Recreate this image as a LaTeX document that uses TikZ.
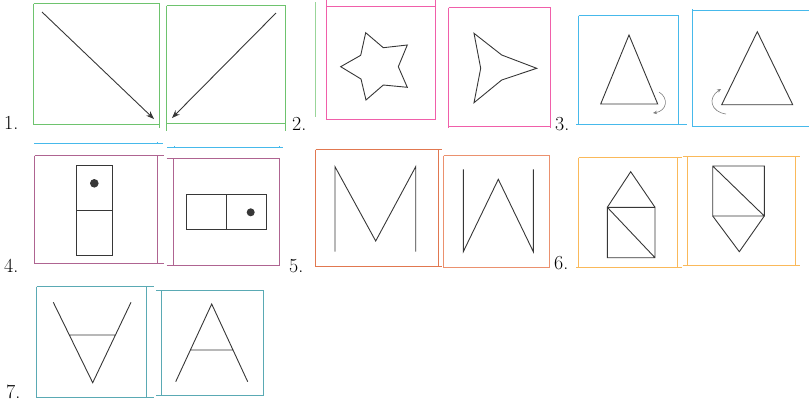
\documentclass[tikz,border=0pt]{standalone}
\usetikzlibrary{arrows.meta}
\definecolor{cgreen}{RGB}{110,195,110}
\definecolor{cpink}{RGB}{240,95,170}
\definecolor{cblue}{RGB}{70,185,235}
\definecolor{cpurple}{RGB}{175,100,145}
\definecolor{corange}{RGB}{225,120,80}
\definecolor{csalmon}{RGB}{235,145,110}
\definecolor{cyellow}{RGB}{250,185,90}
\definecolor{cteal}{RGB}{90,170,180}
\definecolor{cink}{RGB}{55,55,55}
\begin{document}
\begin{tikzpicture}[x=1bp,y=-1bp,
  frame/.style={line width=1.3bp},
  figline/.style={draw=cink,line width=0.9bp,line join=miter},
  lab/.style={font=\fontsize{20}{22}\selectfont,anchor=base west,inner sep=0pt},
  rot/.style={draw=gray,line width=0.6bp,-{Stealth[length=4bp,width=3.5bp]}}]
\useasboundingbox (0,0) rectangle (809,402);
% ---------- labels
\node[lab] (l1) at (4,129) {1.};
\node[lab] (l2) at (292,130) {2.};
\node[lab] (l3) at (555,130) {3.};
\node[lab] (l4) at (4,272) {4.};
\node[lab] (l5) at (289,272) {5.};
\node[lab] (l6) at (554,269) {6.};
\node[lab] (l7) at (6,398) {7.};
% ---------- panel 1
\draw[frame,draw=cgreen] (33.5,3.5) -- (159.5,3.5) (33.5,3.5) -- (33.5,124.5) (33.5,124.5) -- (159.5,124.5) (159.5,3.5) -- (159.5,127.5);
\draw[frame,draw=cgreen] (166.5,5.5) -- (166.5,130.5) (285.5,5.5) -- (285.5,130.5) (166.5,5.5) -- (285.5,5.5) (166.5,123.5) -- (285.5,123.5);
\draw[cink,line width=0.9bp,-{Stealth[length=8bp,width=6bp]}] (42,12) -- (154,119);
\draw[cink,line width=0.9bp,-{Stealth[length=8bp,width=6bp]}] (276,13) -- (172,118);
\draw[frame,draw=cblue] (34,143.5) -- (163,143.5) (157.5,142) -- (157.5,143.5);
\draw[frame,draw=cblue] (167,147.5) -- (283,147.5) (174.5,146) -- (174.5,147.5) (279.5,146) -- (279.5,147.5);
% ---------- panel 2
\draw[line width=0.7bp,draw=cgreen!70] (315.5,2) -- (315.5,117);
\draw[frame,draw=cpink] (326.5,0) -- (326.5,119.5) -- (435.5,119.5) -- (435.5,0) (326.5,6.5) -- (435.5,6.5);
\draw[figline] (365.7,32.7) -- (383.3,47.7) -- (407.3,45) -- (398.3,66.7) -- (407.3,87.3) -- (383.3,85)
  -- (366,100) -- (361,79) -- (340.7,66.7) -- (360.7,55.3) -- cycle;
\draw[frame,draw=cpink] (448.5,7.5) -- (550.5,7.5) (448.5,7.5) -- (448.5,128) (550.5,7.5) -- (550.5,128) (448.5,126.5) -- (550.5,126.5);
\draw[figline] (474,33.3) -- (501.7,55) -- (536.7,68.3) -- (501.7,80) -- (474,102.7) -- (480.7,68.3) -- cycle;
% ---------- panel 3
\draw[frame,draw=cblue] (578.5,15.5) -- (678.5,15.5) (578.5,15.5) -- (578.5,124.5) (678.5,15.5) -- (678.5,124.5) (576,124.5) -- (687,124.5);
\draw[frame,draw=cblue] (692.5,9) -- (692.5,126.5) (692.5,10.5) -- (809,10.5) (692.5,126.5) -- (809,126.5);
\draw[figline] (629,35) -- (600.7,104) -- (657.7,104) -- cycle;
\draw[figline] (757.3,31.7) -- (721.7,104.7) -- (792.7,104.7) -- cycle;
\draw[rot] (659,92) .. controls (669,98) and (667,111) .. (653,113);
\draw[rot] (726,114) .. controls (711,112) and (707,98) .. (721,89);
% ---------- panel 4
\draw[frame,draw=cpurple] (34.5,155.5) -- (164,155.5) (34.5,263.5) -- (164,263.5) (34.5,155.5) -- (34.5,263.5) (157.5,155.5) -- (157.5,263.5);
\draw[frame,draw=cpurple] (166.5,158.5) -- (280,158.5) (166.5,265.5) -- (280,265.5) (173.5,158.5) -- (173.5,265.5) (279.5,158.5) -- (279.5,265.5);
\draw[figline] (76,165.7) rectangle (112.7,255.7) (76,210.7) -- (112.7,210.7);
\fill[cink] (94.3,183.3) circle (4.3bp);
\draw[figline] (186,194.3) rectangle (266.7,229.3) (226.7,194.3) -- (226.7,229.3);
\fill[cink] (250.7,212.3) circle (4.0bp);
% ---------- panel 5
\draw[frame,draw=corange] (315.5,149.5) -- (441.5,149.5) (315.5,266.5) -- (441.5,266.5) (315.5,149.5) -- (315.5,266.5) (438.5,149.5) -- (438.5,266.5);
\draw[frame,draw=csalmon] (443.5,155.5) -- (549.5,155.5) (443.5,267.5) -- (549.5,267.5) (443.5,155.5) -- (443.5,267.5) (549.5,155.5) -- (549.5,267.5);
\draw[figline] (335,251.7) -- (335,166.7) -- (375.7,241) -- (415.7,166.7) -- (415.7,251.7);
\draw[figline] (463.3,169.3) -- (463.3,251.7) -- (498.3,179.3) -- (533.3,251.7) -- (533.3,169.3);
% ---------- panel 6
\draw[frame,draw=cyellow] (578.5,157.5) -- (681.5,157.5) (576,267.5) -- (681.5,267.5) (578.5,157.5) -- (578.5,267.5) (677.5,157.5) -- (677.5,267.5);
\draw[frame,draw=cyellow] (682.5,156.5) -- (800,156.5) (682.5,265.5) -- (800,265.5) (687.5,156.5) -- (687.5,265.5) (795.5,156.5) -- (795.5,265.5);
\draw[figline] (607.3,207.3) -- (630.7,171.7) -- (655,207.3);
\draw[figline] (607.3,207.3) rectangle (655,257.7) (607.3,207.3) -- (655,257.7);
\draw[figline] (712.7,166) rectangle (764.3,216) (712.7,166) -- (764.3,216);
\draw[figline] (712.7,216) -- (739.3,251.7) -- (764.3,216);
% ---------- panel 7
\draw[frame,draw=cteal] (36.5,286.5) -- (153.5,286.5) (36.5,397.5) -- (153.5,397.5) (36.5,286.5) -- (36.5,397.5) (146.5,286.5) -- (146.5,397.5);
\draw[frame,draw=cteal] (156,290.5) -- (263.5,290.5) (156,395.5) -- (263.5,395.5) (161.5,290.5) -- (161.5,395.5) (263.5,290.5) -- (263.5,395.5);
\draw[figline] (53.3,302.3) -- (92.7,382.7) -- (131,302.3) (69.3,335) -- (115.4,335);
\draw[figline] (175.7,381.7) -- (211.7,304) -- (247.7,381.7) (190.4,350) -- (232.3,350);
\end{tikzpicture}
\end{document}
